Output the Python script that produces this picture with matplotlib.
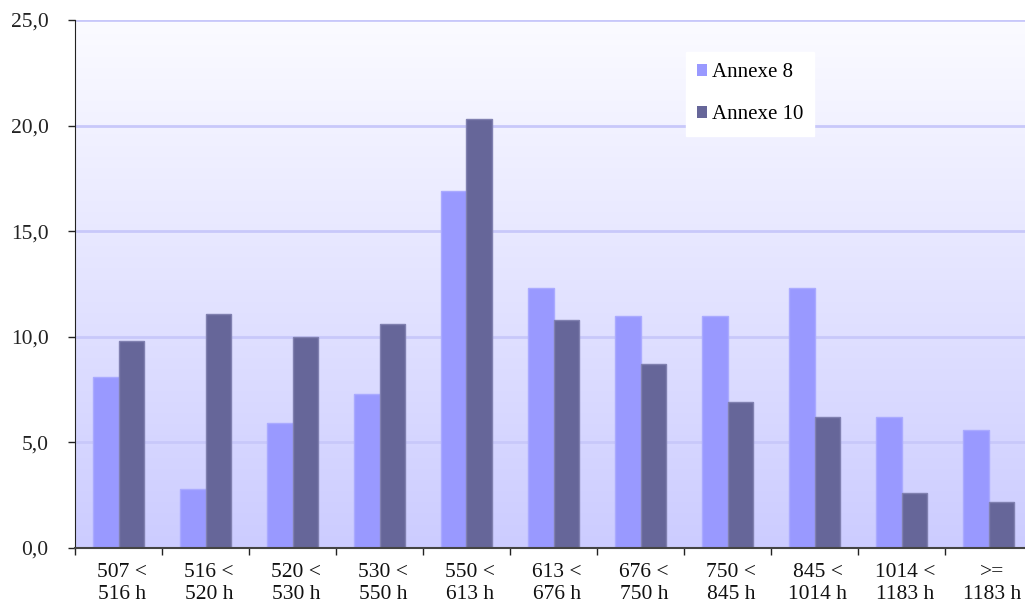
import numpy as np
import matplotlib
matplotlib.use("Agg")
import matplotlib.pyplot as plt
from matplotlib.patches import Patch

categories = ["507 <\n516 h", "516 <\n520 h", "520 <\n530 h", "530 <\n550 h",
              "550 <\n613 h", "613 <\n676 h", "676 <\n750 h", "750 <\n845 h",
              "845 <\n1014 h", "1014 <\n1183 h", ">=\n1183 h"]
annexe8 = [8.1, 2.8, 5.9, 7.3, 16.9, 12.3, 11.0, 11.0, 12.3, 6.2, 5.6]
annexe10 = [9.8, 11.1, 10.0, 10.6, 20.3, 10.8, 8.7, 6.9, 6.2, 2.6, 2.2]
yticks = [0, 5, 10, 15, 20, 25]

plt.rcParams['font.family'] = ['Liberation Serif', 'DejaVu Serif']

fig = plt.figure(figsize=(10.25, 6.12), dpi=100)
# plot area runs a bit past the right edge of the picture
ax = fig.add_axes([75 / 1025, (612 - 548) / 612, 957 / 1025, 528 / 612])

x = np.arange(len(categories))
w = 0.29

# gradient background
grad = np.linspace(0, 1, 256).reshape(-1, 1)
top = np.array([0.985, 0.985, 1.0])
bot = np.array([0.80, 0.80, 1.0])
img = top + (bot - top) * grad[:, :, None] * np.ones((1, 1, 3))
ax.imshow(img, extent=[-0.5, len(categories) - 0.5, 0, 25], aspect='auto',
          origin='upper', zorder=0)

for v in yticks[1:]:
    ax.axhline(v, color='#c8c8fa', lw=2, zorder=1)

ax.bar(x - w / 2, annexe8, w, color='#9999ff', edgecolor='#aaaaff', lw=1, zorder=2)
ax.bar(x + w / 2, annexe10, w, color='#666699', edgecolor='#8080b0', lw=1, zorder=2)

ax.set_xlim(-0.5, len(categories) - 0.5)
ax.set_ylim(0, 25)
ax.set_yticks(yticks)
ax.set_yticklabels([f"{v:.1f}".replace('.', ',') for v in yticks], fontsize=15.5, color='#222222')
ax.set_xticks(x + 0.04)
ax.set_xticklabels(categories, fontsize=15.5, linespacing=1.2, color='#111111')
ax.tick_params(axis='x', which='major', length=0, pad=11)
ax.set_xticks(np.arange(len(categories)) - 0.5, minor=True)
ax.tick_params(axis='x', which='minor', length=5, width=1, color='#222222')
ax.tick_params(axis='y', length=5, width=1, color='#222222', pad=14)

for s in ['top', 'right']:
    ax.spines[s].set_visible(False)
ax.spines['left'].set_color('#222222')
ax.spines['bottom'].set_color('#444444')
ax.spines['bottom'].set_linewidth(1.5)

handles = [Patch(facecolor='#9999ff', edgecolor='none'),
           Patch(facecolor='#666699', edgecolor='none')]
leg = ax.legend(handles, ["Annexe 8", "Annexe 10"], loc='upper left',
                bbox_to_anchor=(0.638, 0.94), fontsize=15, frameon=True,
                fancybox=False, handlelength=0.5, handleheight=0.5,
                handletextpad=0.2, labelspacing=1.1, borderpad=0.55,
                borderaxespad=0)
leg.get_frame().set_facecolor('white')
leg.get_frame().set_edgecolor('white')
leg.get_frame().set_alpha(1)

fig.savefig("out.png", dpi=100)
